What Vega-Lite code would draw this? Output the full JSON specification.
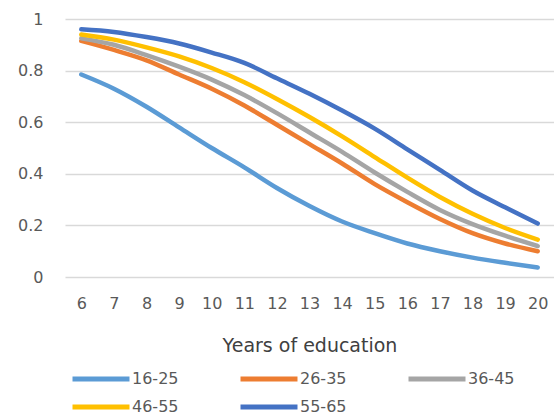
{
  "$schema": "https://vega.github.io/schema/vega-lite/v6.json",
  "width": 489,
  "height": 258,
  "autosize": {"type": "none"},
  "padding": {"left": 65, "top": 19, "right": 0, "bottom": 140},
  "background": "white",
  "config": {"view": {"stroke": null}, "font": "DejaVu Sans"},
  "data": {"values": [
    {"x":6,"g":"16-25","v":0.785},{"x":7,"g":"16-25","v":0.73},{"x":8,"g":"16-25","v":0.66},{"x":9,"g":"16-25","v":0.58},{"x":10,"g":"16-25","v":0.5},{"x":11,"g":"16-25","v":0.425},{"x":12,"g":"16-25","v":0.345},{"x":13,"g":"16-25","v":0.275},{"x":14,"g":"16-25","v":0.215},{"x":15,"g":"16-25","v":0.17},{"x":16,"g":"16-25","v":0.13},{"x":17,"g":"16-25","v":0.1},{"x":18,"g":"16-25","v":0.075},{"x":19,"g":"16-25","v":0.055},{"x":20,"g":"16-25","v":0.037},
    {"x":6,"g":"26-35","v":0.915},{"x":7,"g":"26-35","v":0.88},{"x":8,"g":"26-35","v":0.84},{"x":9,"g":"26-35","v":0.785},{"x":10,"g":"26-35","v":0.73},{"x":11,"g":"26-35","v":0.665},{"x":12,"g":"26-35","v":0.59},{"x":13,"g":"26-35","v":0.515},{"x":14,"g":"26-35","v":0.44},{"x":15,"g":"26-35","v":0.36},{"x":16,"g":"26-35","v":0.29},{"x":17,"g":"26-35","v":0.225},{"x":18,"g":"26-35","v":0.17},{"x":19,"g":"26-35","v":0.13},{"x":20,"g":"26-35","v":0.1},
    {"x":6,"g":"36-45","v":0.925},{"x":7,"g":"36-45","v":0.9},{"x":8,"g":"36-45","v":0.86},{"x":9,"g":"36-45","v":0.815},{"x":10,"g":"36-45","v":0.765},{"x":11,"g":"36-45","v":0.705},{"x":12,"g":"36-45","v":0.635},{"x":13,"g":"36-45","v":0.56},{"x":14,"g":"36-45","v":0.485},{"x":15,"g":"36-45","v":0.405},{"x":16,"g":"36-45","v":0.33},{"x":17,"g":"36-45","v":0.26},{"x":18,"g":"36-45","v":0.205},{"x":19,"g":"36-45","v":0.16},{"x":20,"g":"36-45","v":0.12},
    {"x":6,"g":"46-55","v":0.94},{"x":7,"g":"46-55","v":0.92},{"x":8,"g":"46-55","v":0.89},{"x":9,"g":"46-55","v":0.855},{"x":10,"g":"46-55","v":0.81},{"x":11,"g":"46-55","v":0.755},{"x":12,"g":"46-55","v":0.69},{"x":13,"g":"46-55","v":0.62},{"x":14,"g":"46-55","v":0.545},{"x":15,"g":"46-55","v":0.465},{"x":16,"g":"46-55","v":0.385},{"x":17,"g":"46-55","v":0.31},{"x":18,"g":"46-55","v":0.245},{"x":19,"g":"46-55","v":0.19},{"x":20,"g":"46-55","v":0.145},
    {"x":6,"g":"55-65","v":0.96},{"x":7,"g":"55-65","v":0.95},{"x":8,"g":"55-65","v":0.93},{"x":9,"g":"55-65","v":0.905},{"x":10,"g":"55-65","v":0.87},{"x":11,"g":"55-65","v":0.83},{"x":12,"g":"55-65","v":0.77},{"x":13,"g":"55-65","v":0.71},{"x":14,"g":"55-65","v":0.645},{"x":15,"g":"55-65","v":0.575},{"x":16,"g":"55-65","v":0.495},{"x":17,"g":"55-65","v":0.415},{"x":18,"g":"55-65","v":0.335},{"x":19,"g":"55-65","v":0.27},{"x":20,"g":"55-65","v":0.207}
  ]},
  "mark": {"type": "line", "interpolate": "monotone", "strokeWidth": 4.5, "strokeCap": "round"},
  "encoding": {
    "x": {
      "field": "x", "type": "ordinal",
      "scale": {"type": "point", "padding": 0.5},
      "axis": {
        "title": "Years of education", "titleFontSize": 19, "titleFontWeight": "normal", "titleColor": "#404040", "titlePadding": 25,
        "labelAngle": 0, "labelFontSize": 16, "labelColor": "#595959", "labelPadding": 18,
        "ticks": false, "domain": false, "grid": false
      }
    },
    "y": {
      "field": "v", "type": "quantitative",
      "scale": {"domain": [0, 1]},
      "axis": {
        "title": null, "values": [0, 0.2, 0.4, 0.6, 0.8, 1], "format": "~g",
        "labelFontSize": 16, "labelColor": "#595959", "labelPadding": 22,
        "ticks": false, "domain": false, "gridColor": "#d9d9d9", "gridWidth": 1.5
      }
    },
    "color": {
      "field": "g", "type": "nominal",
      "scale": {"domain": ["16-25", "26-35", "36-45", "46-55", "55-65"], "range": ["#5B9BD5", "#ED7D31", "#A5A5A5", "#FFC000", "#4472C4"]},
      "legend": {
        "title": null, "orient": "none", "legendX": 26, "legendY": 350, "direction": "horizontal", "columns": 3,
        "symbolType": "M-4,0H4", "symbolSize": 203, "symbolStrokeWidth": 5, "symbolFillColor": "transparent", "labelFontSize": 16, "labelColor": "#595959",
        "labelOffset": 21, "columnPadding": 51, "rowPadding": 8
      }
    }
  }
}
